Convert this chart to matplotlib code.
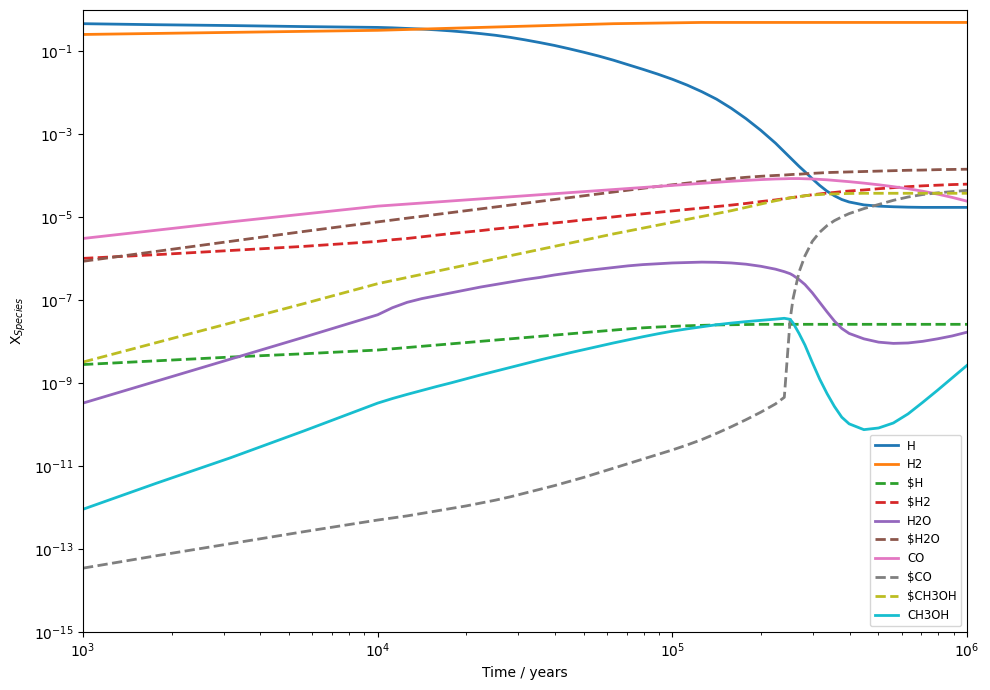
import numpy as np
import matplotlib
matplotlib.use("Agg")
import matplotlib.pyplot as plt

# Time grid in years
time_years = [1000, 1778, 3162, 5623, 10000, 11220, 12589, 14125, 15849, 17783,
              19953, 22387, 25119, 28184, 31623, 35481, 39811, 44668, 50119, 56234,
              63096, 70795, 79433, 89125, 100000, 112202, 125893, 141254, 158489, 177828,
              199526, 223872, 239883, 251189, 257040, 269153, 281838, 298538, 316228, 334965,
              354813, 375837, 398107, 446684, 501187, 562341, 630957, 707946, 794328, 891251,
              1000000]

# log10 of fractional abundances
log_H = [-0.33, -0.355, -0.375, -0.40, -0.42, -0.43, -0.445, -0.46, -0.48, -0.505,
         -0.535, -0.57, -0.61, -0.66, -0.72, -0.785, -0.855, -0.935, -1.02, -1.11,
         -1.21, -1.32, -1.43, -1.545, -1.67, -1.81, -1.97, -2.15, -2.37, -2.62,
         -2.90, -3.21, -3.42, -3.56, -3.63, -3.77, -3.90, -4.07, -4.23, -4.37,
         -4.48, -4.57, -4.63, -4.70, -4.73, -4.745, -4.755, -4.76, -4.76, -4.76,
         -4.76]
log_H2 = [-0.59, -0.565, -0.54, -0.515, -0.49, -0.48, -0.47, -0.46, -0.45, -0.44,
          -0.43, -0.42, -0.41, -0.40, -0.39, -0.38, -0.37, -0.36, -0.35, -0.34,
          -0.33, -0.325, -0.32, -0.315, -0.31, -0.305, -0.30, -0.30, -0.30, -0.30,
          -0.30, -0.30, -0.30, -0.30, -0.30, -0.30, -0.30, -0.30, -0.30, -0.30,
          -0.30, -0.30, -0.30, -0.30, -0.30, -0.30, -0.30, -0.30, -0.30, -0.30,
          -0.30]
log_sH = [-8.55, -8.46, -8.37, -8.29, -8.20, -8.17, -8.14, -8.11, -8.08, -8.05,
          -8.02, -7.99, -7.96, -7.93, -7.90, -7.87, -7.84, -7.81, -7.78, -7.75,
          -7.72, -7.69, -7.665, -7.645, -7.63, -7.615, -7.605, -7.595, -7.59, -7.585,
          -7.58, -7.58, -7.58, -7.58, -7.58, -7.58, -7.58, -7.58, -7.58, -7.58,
          -7.58, -7.58, -7.58, -7.58, -7.58, -7.58, -7.58, -7.58, -7.58, -7.58,
          -7.58]
log_sH2 = [-5.99, -5.90, -5.80, -5.70, -5.58, -5.54, -5.51, -5.47, -5.43, -5.39,
           -5.355, -5.32, -5.28, -5.245, -5.21, -5.17, -5.135, -5.10, -5.06, -5.025,
           -4.99, -4.95, -4.915, -4.88, -4.845, -4.81, -4.775, -4.74, -4.705, -4.665,
           -4.62, -4.58, -4.55, -4.53, -4.52, -4.50, -4.48, -4.455, -4.435, -4.415,
           -4.40, -4.38, -4.365, -4.34, -4.31, -4.285, -4.26, -4.24, -4.225, -4.21,
           -4.20]
log_H2O = [-9.48, -8.95, -8.42, -7.89, -7.35, -7.18, -7.05, -6.96, -6.89, -6.82,
           -6.75, -6.68, -6.62, -6.56, -6.50, -6.45, -6.39, -6.34, -6.29, -6.25,
           -6.21, -6.17, -6.14, -6.12, -6.10, -6.09, -6.08, -6.085, -6.10, -6.13,
           -6.18, -6.25, -6.31, -6.36, -6.40, -6.50, -6.62, -6.82, -7.05, -7.28,
           -7.50, -7.68, -7.80, -7.93, -8.01, -8.04, -8.03, -7.99, -7.93, -7.86,
           -7.77]
log_sH2O = [-6.06, -5.82, -5.58, -5.34, -5.11, -5.065, -5.02, -4.975, -4.93, -4.885,
            -4.84, -4.795, -4.75, -4.705, -4.66, -4.615, -4.57, -4.525, -4.48, -4.435,
            -4.39, -4.345, -4.30, -4.255, -4.215, -4.175, -4.135, -4.10, -4.065, -4.035,
            -4.01, -3.99, -3.98, -3.97, -3.965, -3.96, -3.95, -3.94, -3.93, -3.92,
            -3.915, -3.91, -3.905, -3.895, -3.885, -3.875, -3.865, -3.86, -3.85, -3.845,
            -3.84]
log_CO = [-5.51, -5.31, -5.11, -4.92, -4.73, -4.705, -4.68, -4.655, -4.63, -4.605,
          -4.58, -4.555, -4.53, -4.505, -4.48, -4.455, -4.43, -4.405, -4.38, -4.355,
          -4.33, -4.305, -4.28, -4.255, -4.23, -4.205, -4.18, -4.155, -4.13, -4.11,
          -4.09, -4.075, -4.07, -4.065, -4.065, -4.065, -4.07, -4.075, -4.085, -4.095,
          -4.11, -4.125, -4.14, -4.175, -4.215, -4.26, -4.31, -4.37, -4.44, -4.52,
          -4.61]
log_sCO = [-13.46, -13.16, -12.87, -12.58, -12.30, -12.25, -12.20, -12.14, -12.08, -12.02,
           -11.96, -11.89, -11.82, -11.74, -11.65, -11.56, -11.47, -11.37, -11.27, -11.16,
           -11.05, -10.94, -10.83, -10.72, -10.61, -10.49, -10.36, -10.21, -10.05, -9.88,
           -9.70, -9.50, -9.34, -7.45, -6.95, -6.32, -5.93, -5.58, -5.36, -5.20,
           -5.08, -4.99, -4.91, -4.79, -4.69, -4.59, -4.51, -4.45, -4.41, -4.38,
           -4.35]
log_sCH3OH = [-8.49, -8.02, -7.55, -7.08, -6.60, -6.525, -6.45, -6.375, -6.30, -6.225,
              -6.15, -6.075, -6.00, -5.925, -5.85, -5.775, -5.70, -5.625, -5.55, -5.475,
              -5.40, -5.33, -5.26, -5.19, -5.12, -5.05, -4.98, -4.91, -4.84, -4.76,
              -4.68, -4.60, -4.56, -4.53, -4.52, -4.50, -4.48, -4.46, -4.45, -4.44,
              -4.435, -4.43, -4.425, -4.42, -4.42, -4.42, -4.42, -4.42, -4.42, -4.42,
              -4.42]
log_CH3OH = [-12.04, -11.41, -10.80, -10.15, -9.48, -9.37, -9.27, -9.175, -9.08, -8.99,
             -8.895, -8.80, -8.71, -8.62, -8.53, -8.44, -8.355, -8.27, -8.19, -8.11,
             -8.03, -7.955, -7.88, -7.81, -7.745, -7.69, -7.64, -7.59, -7.55, -7.515,
             -7.485, -7.455, -7.435, -7.46, -7.55, -7.80, -8.08, -8.50, -8.90, -9.25,
             -9.56, -9.82, -9.98, -10.12, -10.08, -9.96, -9.74, -9.46, -9.17, -8.87,
             -8.57]

species = ["H", "H2", r"\$H", r"\$H2", "H2O", r"\$H2O", "CO", r"\$CO", r"\$CH3OH", "CH3OH"]
series = [log_H, log_H2, log_sH, log_sH2, log_H2O, log_sH2O, log_CO, log_sCO, log_sCH3OH, log_CH3OH]
styles = ["-", "-", "--", "--", "-", "--", "-", "--", "--", "-"]

fig = plt.figure(figsize=(9.9, 6.9), dpi=100)
ax = fig.add_subplot(111)
fig.subplots_adjust(left=83/990, right=967/990, top=1-10/690, bottom=1-632/690)

t = np.array(time_years, dtype=float)
for name, logv, ls in zip(species, series, styles):
    ax.plot(t, 10.0 ** np.array(logv), ls, lw=2, label=name)

ax.set_xscale("log")
ax.set_yscale("log")
ax.set_xlim(1e3, 1e6)
ax.set_ylim(1e-15, 1)
ax.set_xlabel("Time / years")
ax.set_ylabel(r"X$_{Species}$")
ax.legend(loc="lower right", fontsize="small")

fig.savefig("out.png", dpi=100)
